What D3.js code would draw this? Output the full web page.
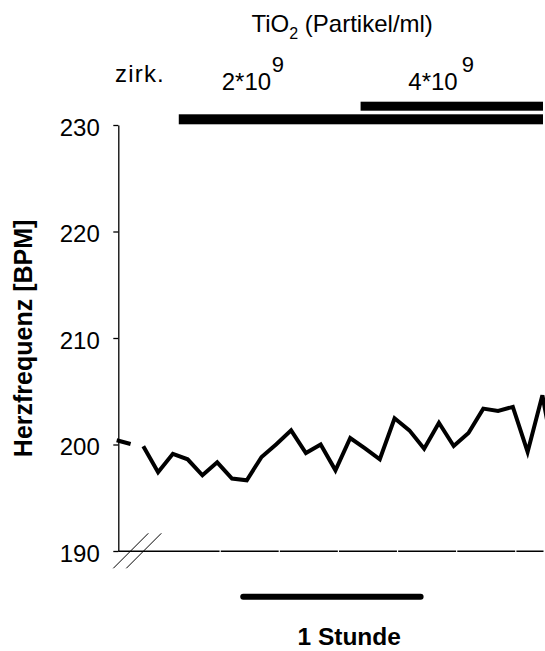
<!DOCTYPE html>
<html>
<head>
<meta charset="utf-8">
<script src="https://cdn.jsdelivr.net/npm/d3@7"></script>
<style>
  html, body { margin: 0; padding: 0; background: #fff; }
  svg { display: block; font-family: "Liberation Sans", Arial, Helvetica, sans-serif; }
</style>
</head>
<body>
<svg id="chart" width="545" height="651"></svg>
<script>
// Baseline recording before exposure (circulating control), minutes
const preTimes = [-9, -4.3];
const preBpm = [200.4, 200.05];

// Heart rate during TiO2 exposure, one value every 5 minutes
const times = [0, 5, 10, 15, 20, 25, 30, 35, 40, 45, 50, 55, 60, 65, 70,
               75, 80, 85, 90, 95, 100, 105, 110, 115, 120, 125, 130, 135, 140];
const bpm = [199.83, 197.39, 199.13, 198.61, 197.11, 198.33, 196.8, 196.64, 198.83, 200.02,
             201.33, 199.2, 200.0, 197.58, 200.61, 199.64, 198.61, 202.46, 201.33, 199.61,
             202.04, 199.86, 201.08, 203.37, 203.15, 203.53, 199.3, 204.62, 197.2];

// Exposure periods (minutes) and their doses
const doseLabels = ["2*10", "4*10"];
const doseStart = [12, 73.5];
const doseEnd = [135.2, 135.2];

// Axis ticks
const yTicks = [190, 200, 210, 220, 230];
const xTicks = [26, 46, 66, 86, 106, 126];

// Scale bar: one hour
const scaleBarStart = 33.8;
const scaleBarMinutes = 60;

const svg = d3.select("#chart");

const x = d3.scaleLinear().domain([0, 135]).range([143.3, 542.4]);
const y = d3.scaleLinear().domain([190, 230]).range([551, 125]);

const axisX0 = 118.3;

// Y axis
const yAxis = svg.append("g")
  .attr("transform", `translate(${axisX0},0)`)
  .call(d3.axisLeft(y).tickValues(yTicks).tickSize(5).tickSizeOuter(0).tickPadding(13.5));
yAxis.select(".domain").attr("stroke", "#000").attr("stroke-width", 1.3);
yAxis.selectAll(".tick line").attr("stroke", "#000").attr("stroke-width", 1.3);
yAxis.selectAll(".tick text")
  .attr("font-size", 24)
  .attr("font-family", "Liberation Sans, Arial, sans-serif")
  .attr("fill", "#000")
  .attr("dy", "0.42em");

// X axis baseline with small gaps at the tick positions
const yBase = y(190) + 0.3;
svg.append("line")
  .attr("x1", axisX0).attr("x2", 543.5)
  .attr("y1", yBase).attr("y2", yBase)
  .attr("stroke", "#000").attr("stroke-width", 1.4);
svg.append("g").selectAll("line")
  .data(xTicks)
  .join("line")
  .attr("x1", d => x(d)).attr("x2", d => x(d))
  .attr("y1", yBase - 1.5).attr("y2", yBase + 1.5)
  .attr("stroke", "#fff").attr("stroke-width", 1.2);

// Axis break marks
const breakG = svg.append("g").attr("stroke", "#000").attr("stroke-width", 1);
[113.3, 126.3].forEach(bx => {
  breakG.append("line")
    .attr("x1", bx).attr("y1", 568.3)
    .attr("x2", bx + 35).attr("y2", 533.3);
});

// Heart rate line
const line = d3.line().x(d => x(d[0])).y(d => y(d[1]));

svg.append("path")
  .datum(preTimes.map((t, i) => [t, preBpm[i]]))
  .attr("d", line)
  .attr("fill", "none").attr("stroke", "#000").attr("stroke-width", 4);

svg.append("path")
  .datum(times.map((t, i) => [t, bpm[i]]))
  .attr("d", line)
  .attr("fill", "none").attr("stroke", "#000").attr("stroke-width", 4)
  .attr("stroke-linejoin", "miter").attr("stroke-miterlimit", 4);

// Exposure bars
const barY = [114.3, 101.7];
const barH = [10, 9];
svg.append("g").selectAll("rect")
  .data(doseStart)
  .join("rect")
  .attr("x", d => x(d))
  .attr("width", (d, i) => x(doseEnd[i]) - x(d))
  .attr("y", (d, i) => barY[i])
  .attr("height", (d, i) => barH[i])
  .attr("fill", "#000");

// Title
const title = svg.append("text")
  .attr("x", 251.5).attr("y", 31.7)
  .attr("font-size", 24).attr("fill", "#000");
title.append("tspan").text("TiO");
title.append("tspan").attr("font-size", 16).attr("dy", 7).text("2");
title.append("tspan").attr("dy", -7).text(" (Partikel/ml)");

// Dose labels
svg.append("text").attr("x", 115).attr("y", 81.5)
  .attr("font-size", 24).attr("letter-spacing", 1.2).attr("fill", "#000").text("zirk.");

const doseLabelX = [221.7, 408.3];
const doseExpX = [271.7, 461.7];
doseLabels.forEach((lbl, i) => {
  svg.append("text").attr("x", doseLabelX[i]).attr("y", 89.5)
    .attr("font-size", 24).attr("fill", "#000").text(lbl);
  svg.append("text").attr("x", doseExpX[i]).attr("y", 71.7)
    .attr("font-size", 22).attr("fill", "#000").text("9");
});

// Y axis title
svg.append("text")
  .attr("transform", "translate(32.3,338.4) rotate(-90)")
  .attr("text-anchor", "middle")
  .attr("font-size", 25).attr("font-weight", "bold").attr("fill", "#000")
  .text("Herzfrequenz [BPM]");

// One-hour scale bar
svg.append("line")
  .attr("x1", x(scaleBarStart)).attr("x2", x(scaleBarStart + scaleBarMinutes))
  .attr("y1", 596.7).attr("y2", 596.7)
  .attr("stroke", "#000").attr("stroke-width", 6).attr("stroke-linecap", "round");

svg.append("text")
  .attr("x", 349.2).attr("y", 645)
  .attr("text-anchor", "middle")
  .attr("font-size", 24.5).attr("font-weight", "bold").attr("fill", "#000")
  .text("1 Stunde");
</script>
</body>
</html>
